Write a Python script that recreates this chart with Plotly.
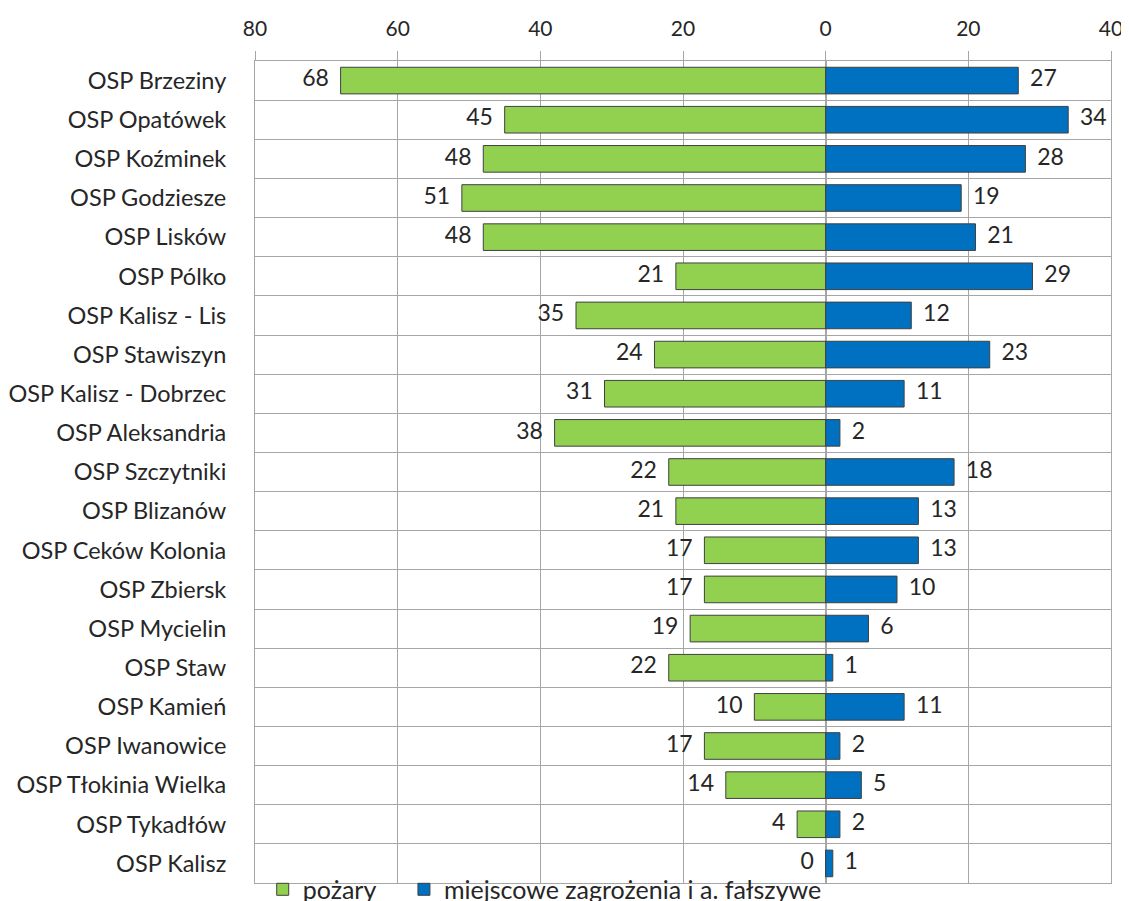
import plotly.graph_objects as go

categories = ["OSP Brzeziny", "OSP Opatówek", "OSP Koźminek", "OSP Godziesze", "OSP Lisków",
              "OSP Pólko", "OSP Kalisz - Lis", "OSP Stawiszyn", "OSP Kalisz - Dobrzec",
              "OSP Aleksandria", "OSP Szczytniki", "OSP Blizanów", "OSP Ceków Kolonia",
              "OSP Zbiersk", "OSP Mycielin", "OSP Staw", "OSP Kamień", "OSP Iwanowice",
              "OSP Tłokinia Wielka", "OSP Tykadłów", "OSP Kalisz"]
pozary = [68, 45, 48, 51, 48, 21, 35, 24, 31, 38, 22, 21, 17, 17, 19, 22, 10, 17, 14, 4, 0]
miejscowe = [27, 34, 28, 19, 21, 29, 12, 23, 11, 2, 18, 13, 13, 10, 6, 1, 11, 2, 5, 2, 1]
tick_vals = [-80, -60, -40, -20, 0, 20, 40]
tick_text = ["80", "60", "40", "20", "0", "20", "40"]

FONT = "Lato"
GRID = "#a6a6a6"
TXT = "#262626"
pos = list(range(len(categories)))

fig = go.Figure()
fig.add_trace(go.Bar(
    y=pos, x=[-v for v in pozary], orientation="h", name="pożary", legend="legend",
    marker=dict(color="#92D050", line=dict(color="#404040", width=1)),
))
fig.add_trace(go.Bar(
    y=pos, x=miejscowe, orientation="h", name="miejscowe zagrożenia i a. fałszywe",
    legend="legend2",
    marker=dict(color="#0070C0", line=dict(color="#404040", width=1)),
))
# data labels
fig.add_trace(go.Scatter(
    y=pos, x=[-v for v in pozary], mode="text", text=[f"{v}  " for v in pozary],
    textposition="middle left", textfont=dict(family=FONT, size=23, color=TXT),
    showlegend=False, hoverinfo="skip", cliponaxis=False,
))
fig.add_trace(go.Scatter(
    y=pos, x=miejscowe, mode="text", text=[f"  {v}" for v in miejscowe],
    textposition="middle right", textfont=dict(family=FONT, size=23, color=TXT),
    showlegend=False, hoverinfo="skip", cliponaxis=False,
))

legend_common = dict(orientation="h", xanchor="left", y=0.02, yanchor="top",
                     font=dict(family=FONT, size=25, color=TXT),
                     bgcolor="rgba(0,0,0,0)", itemwidth=30)

fig.update_layout(
    width=1121, height=900,
    barmode="overlay", bargap=0.32,
    plot_bgcolor="white", paper_bgcolor="white",
    margin=dict(l=247, r=18, t=53, b=25, autoexpand=False),
    font=dict(family=FONT, size=22, color=TXT),
    xaxis=dict(
        side="top", range=[-80, 40], tickvals=tick_vals, ticktext=tick_text,
        showgrid=True, gridcolor=GRID, gridwidth=1, zeroline=True, zerolinecolor=GRID,
        showline=True, linecolor=GRID, mirror=True,
        ticks="outside", ticklen=9, tickcolor=GRID, ticklabelstandoff=7,
        ticklabeloverflow="allow",
        tickfont=dict(family=FONT, size=21, color=TXT),
    ),
    yaxis=dict(
        range=[len(categories) - 0.5, -0.5], tickvals=pos, ticktext=categories,
        showgrid=False, zeroline=False, showline=True, linecolor=GRID, mirror=True,
        ticks="", ticklabelstandoff=23,
        tickfont=dict(family=FONT, size=23.5, color=TXT),
        minor=dict(tickvals=[i - 0.5 for i in range(len(categories) + 1)],
                   showgrid=True, gridcolor=GRID, gridwidth=1, ticks=""),
    ),
    legend=dict(x=0.009, **legend_common),
    legend2=dict(x=0.174, **legend_common),
    showlegend=True,
)

fig.write_html("out.html")
